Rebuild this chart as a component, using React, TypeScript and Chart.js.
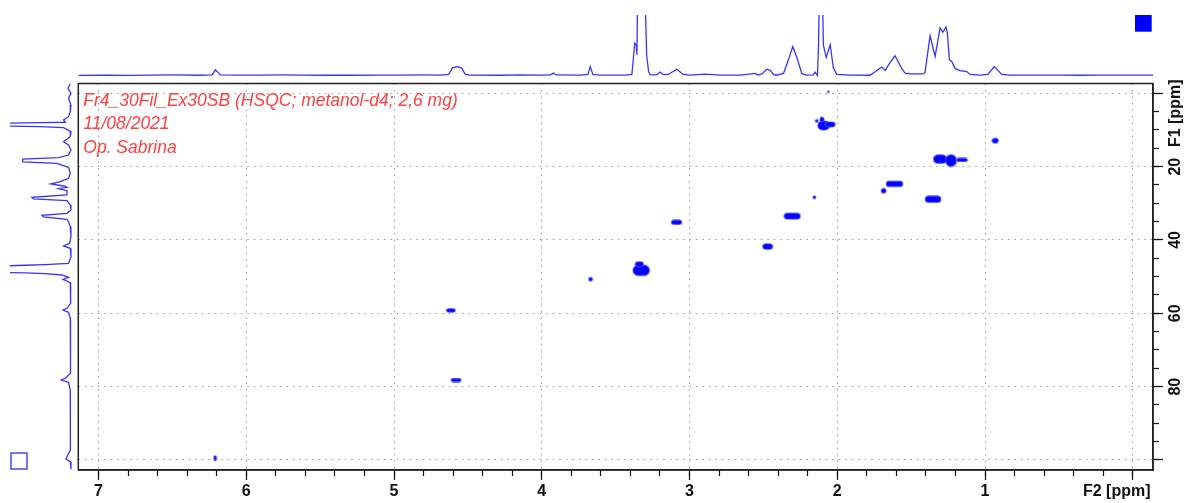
import React, { useEffect, useRef } from 'react';
import { Chart, registerables } from 'chart.js';

Chart.register(...registerables);

const W = 1184;
const H = 503;

// ---------------- data ----------------
// F2 (1H) axis: value at left edge, value at right edge (ppm)
const f2Range = [7.137, -0.137];
// F1 (13C) axis: value at top edge, value at bottom edge (ppm)
const f1Range = [-2.67, 102.73];
const f2Labeled = [1, 2, 3, 4, 5, 6, 7];
const f1Labeled = [20, 40, 60, 80];
const f2Title = 'F2 [ppm]';
const f1Title = 'F1 [ppm]';
const noteLines = ['Fr4_30Fil_Ex30SB (HSQC; metanol-d4; 2,6 mg)', '11/08/2021', 'Op. Sabrina'];

// HSQC cross peaks (contour lobes): 1H shift, 13C shift, 1H extent, 13C extent (ppm)
const peakH = [2.06, 2.092, 2.048, 2.104, 2.139, 0.931, 1.304, 1.23, 1.155, 1.613, 1.686, 1.352, 2.155, 2.305, 2.471, 3.088, 3.327, 3.339, 3.67, 4.615, 4.58, 6.211];
const peakC = [-0.44, 8.78, 8.51, 7.14, 7.55, 12.95, 17.97, 18.33, 18.19, 24.7, 26.6, 28.9, 28.36, 33.5, 41.8, 35.2, 48.27, 46.6, 50.7, 59.2, 78.2, 99.5];
const peakDH = [0.014, 0.081, 0.068, 0.027, 0.02, 0.043, 0.091, 0.074, 0.072, 0.113, 0.034, 0.108, 0.02, 0.111, 0.068, 0.072, 0.112, 0.056, 0.027, 0.06, 0.068, 0.018];
const peakDC = [0.55, 2.45, 1.36, 1.36, 0.8, 1.36, 2.27, 3.27, 0.93, 1.55, 1.36, 1.72, 0.82, 1.64, 1.45, 1.17, 2.92, 1.36, 1.09, 0.95, 0.95, 1.36];

// 1H projection (top trace): ppm, intensity (arb.)
const topPpm = [7.135, 6.95, 6.8, 6.648, 6.5, 6.31, 6.231, 6.209, 6.175, 6.05, 5.904, 5.75, 5.634, 5.45, 5.295, 5.1, 4.957, 4.8, 4.687, 4.63, 4.605, 4.572, 4.544, 4.517, 4.484, 4.281, 4.15, 4.01, 3.942, 3.922, 3.902, 3.739, 3.687, 3.672, 3.654, 3.604, 3.435, 3.39, 3.371, 3.361, 3.356, 3.352, 3.327, 3.3, 3.29, 3.277, 3.266, 3.225, 3.198, 3.178, 3.144, 3.085, 3.043, 2.995, 2.894, 2.792, 2.657, 2.556, 2.535, 2.51, 2.477, 2.454, 2.432, 2.414, 2.364, 2.332, 2.301, 2.272, 2.24, 2.211, 2.163, 2.15, 2.134, 2.127, 2.121, 2.109, 2.1, 2.094, 2.075, 2.048, 2.026, 2.003, 1.913, 1.778, 1.699, 1.676, 1.642, 1.609, 1.563, 1.541, 1.507, 1.419, 1.406, 1.372, 1.338, 1.304, 1.286, 1.264, 1.255, 1.241, 1.225, 1.203, 1.169, 1.124, 1.101, 1.034, 0.98, 0.937, 0.887, 0.831, 0.628, 0.493, 0.357, 0.222, 0.087, -0.049, -0.137];
const topInt = [0, 0.4, 0.1, 0.3, 0.5, 0.2, 0.5, 5.5, 0.5, 0.3, 0.3, 0.5, 0.4, 0.2, 0.2, 0.4, 0.3, 0.5, 0.3, 1, 7.5, 8.8, 7.5, 1, 0.3, 0.2, 0.5, 0.3, 0.5, 2.3, 0.5, 0.3, 1, 8.8, 1, 0.3, 0.3, 1, 32, 30, 20.5, 75, 110, 75, 20, 3.8, 0.5, 0.5, 3.3, 0.8, 1, 6.2, 1, 0.3, 1.3, 0.3, 0.3, 2, 0.5, 1.5, 6.2, 5, 1, 0.2, 2, 15, 28.8, 17, 2, 0.3, 0.5, 3.3, 0, 30, 80, 130, 80, 30, 17.7, 30.5, 7, 1, 0.3, 0.2, 8.3, 5, 13, 19.5, 6.7, 2.3, 1.7, 1.5, 3, 39.5, 18.8, 47.2, 42.8, 48.2, 42.2, 15.5, 13.8, 7, 4.8, 3.8, 1, 0.3, 1, 8.8, 1, 0.3, 0.3, 0.4, 0.2, 0.4, 0.3, 0.4, 0.3];

// 13C projection (left trace): ppm, intensity (arb.)
const leftPpm = [-2.54, -1.36, 0, 1.36, 3.19, 5.02, 6.38, 7.28, 7.9, 8.0, 8.27, 8.56, 8.84, 9.1, 9.38, 10.47, 11.84, 13.2, 14.1, 15.46, 16.83, 17.56, 17.92, 18.73, 19.09, 20.18, 21.82, 23.18, 24.11, 24.73, 25.28, 25.63, 26.02, 26.56, 27.73, 28.36, 28.82, 29.29, 30.46, 31.82, 32.72, 33.27, 33.73, 34.36, 35.02, 36.38, 39.11, 40.91, 41.64, 42.27, 44.56, 46.36, 46.7, 46.9, 47.2, 48.0, 48.75, 49.0, 49.2, 49.55, 50.18, 50.72, 51.65, 53.64, 57.27, 58.63, 59.1, 59.72, 61.36, 66.38, 71.83, 76.36, 77.72, 78.19, 78.81, 80.91, 86.36, 91.82, 97.27, 99.1, 99.73, 100.46, 101.83, 102.54];
const leftInt = [0, 2.3, -0.7, 1.7, -0.7, 0, 1.7, 6.7, 5, 30, 80, 100, 80, 30, 6.7, -0.7, 0, 6.7, 1.7, -0.7, 1.7, 11.7, 47.3, 47.3, 13.3, 1.7, 0, 1.7, 10, 19.3, 6.7, 3.3, 11.7, 3.3, 3.3, 38.3, 36.7, 3.3, 0, -0.7, 3.3, 28.3, 26.7, 3.3, 1.7, 0, -0.7, 0.7, 6.7, 0, -0.7, 1.7, 25, 45, 80, 100, 80, 45, 25, 8.3, 1.7, 7.3, 0, -0.7, 0, 3.3, 7.3, 1.7, 0, 0, -0.7, 0, 5, 9, 1.7, 0, -0.3, 0, 0, 3.3, 4.3, 0, -0.7, -0.7];

// ---------------- styling / layout ----------------
const PLOT = { left: 78.3, top: 83.5, right: 1153, bottom: 470 };
const TOP_PANEL_TOP = 15;
const LEFT_PANEL_LEFT = 10;
const TRACE_COLOR = '#3535ff';
const AXIS_FONT_FAMILY = '"Liberation Sans", Arial, sans-serif';
const tickFont = { family: AXIS_FONT_FAMILY, size: 16, weight: 'bold' as const };

function makeBlob(w: number, h: number): HTMLCanvasElement {
  const c = document.createElement('canvas');
  const pad = 1;
  c.width = Math.max(3, Math.round(w + pad * 2));
  c.height = Math.max(3, Math.round(h + pad * 2));
  const g = c.getContext('2d')!;
  const rw = Math.max(1.6, w);
  const rh = Math.max(1.6, h);
  const x0 = (c.width - rw) / 2;
  const y0 = (c.height - rh) / 2;
  g.beginPath();
  (g as any).roundRect(x0, y0, rw, rh, Math.min(rw, rh) / 2);
  g.fillStyle = '#0000ff';
  g.fill();
  g.lineWidth = 1;
  g.strokeStyle = 'rgba(80,80,255,0.85)';
  g.stroke();
  return c;
}

const decorPlugin = {
  id: 'decor',
  afterDraw(chart: any) {
    const { ctx, chartArea: a } = chart;
    const xs = chart.scales.x;
    const ys = chart.scales.y;
    ctx.save();
    // frame
    ctx.strokeStyle = '#222';
    ctx.lineWidth = 1.5;
    ctx.strokeRect(a.left, a.top, a.right - a.left, a.bottom - a.top);
    // notes
    ctx.fillStyle = '#ff4040';
    ctx.font = 'italic 17.5px "Liberation Sans", Arial, sans-serif';
    ctx.textAlign = 'left';
    ctx.textBaseline = 'alphabetic';
    noteLines.forEach((t, i) => ctx.fillText(t, a.left + 5, a.top + 22.5 + i * 23.3));
    // axis titles
    ctx.fillStyle = '#111';
    ctx.font = `bold 16px ${AXIS_FONT_FAMILY}`;
    ctx.textAlign = 'center';
    ctx.textBaseline = 'middle';
    ctx.fillText(f2Title, xs.getPixelForValue(0) - 16, a.bottom + 22);
    ctx.save();
    ctx.translate(a.right + 23, ys.getPixelForValue(0) + 20);
    ctx.rotate(-Math.PI / 2);
    ctx.fillText(f1Title, 0, 0);
    ctx.restore();
    // colour-level icons
    ctx.fillStyle = '#0000ff';
    ctx.fillRect(1135, 15, 16.7, 16.7);
    ctx.strokeStyle = '#4848ff';
    ctx.lineWidth = 1.5;
    ctx.strokeRect(11, 453, 16, 16);
    ctx.restore();
  },
};

export default function App() {
  const mainRef = useRef<HTMLCanvasElement>(null);
  const topRef = useRef<HTMLCanvasElement>(null);
  const leftRef = useRef<HTMLCanvasElement>(null);

  useEffect(() => {
    const charts: Chart[] = [];
    const f2Min = Math.min(f2Range[0], f2Range[1]);
    const f2Max = Math.max(f2Range[0], f2Range[1]);
    const f1Min = Math.min(f1Range[0], f1Range[1]);
    const f1Max = Math.max(f1Range[0], f1Range[1]);

    // top 1H projection
    charts.push(
      new Chart(topRef.current!, {
        type: 'scatter',
        data: {
          datasets: [
            {
              data: topPpm.map((p, i) => ({ x: p, y: topInt[i] })),
              showLine: true,
              pointRadius: 0,
              borderColor: TRACE_COLOR,
              borderWidth: 1.3,
              tension: 0,
              clip: 0,
            } as any,
          ],
        },
        options: {
          responsive: false,
          animation: false,
          events: [],
          layout: { padding: { left: PLOT.left, right: W - PLOT.right, top: TOP_PANEL_TOP, bottom: H - PLOT.top } },
          scales: {
            x: { type: 'linear', display: false, min: f2Min, max: f2Max, reverse: true },
            y: { type: 'linear', display: false, min: -8, max: 60 },
          },
          plugins: { legend: { display: false }, tooltip: { enabled: false } },
        },
      })
    );

    // left 13C projection
    charts.push(
      new Chart(leftRef.current!, {
        type: 'scatter',
        data: {
          datasets: [
            {
              data: leftPpm.map((p, i) => ({ x: leftInt[i], y: p })),
              showLine: true,
              pointRadius: 0,
              borderColor: TRACE_COLOR,
              borderWidth: 1.3,
              tension: 0,
              clip: 0,
            } as any,
          ],
        },
        options: {
          responsive: false,
          animation: false,
          events: [],
          layout: { padding: { left: LEFT_PANEL_LEFT, right: W - PLOT.left, top: PLOT.top, bottom: H - PLOT.bottom } },
          scales: {
            x: { type: 'linear', display: false, min: -8, max: 60, reverse: true },
            y: { type: 'linear', display: false, min: f1Min, max: f1Max, reverse: true },
          },
          plugins: { legend: { display: false }, tooltip: { enabled: false } },
        },
      })
    );

    // main HSQC plot
    const gridMajor = {
      color: '#9a9a9a',
      lineWidth: 1,
      tickLength: 10,
      tickColor: '#111',
      tickWidth: 1.2,
      drawOnChartArea: true,
    };
    const gridMinor = {
      drawOnChartArea: false,
      tickLength: 6,
      tickColor: '#111',
      tickWidth: 1.2,
    };
    const borderMajor = { display: true, color: '#222', width: 1.5, dash: [1.5, 5] };

    charts.push(
      new Chart(mainRef.current!, {
        type: 'scatter',
        data: {
          datasets: [
            {
              data: peakH.map((h, i) => ({ x: h, y: peakC[i] })),
              pointRadius: 3,
              borderWidth: 0,
              backgroundColor: '#0000ff',
              pointStyle: (ctx: any) => {
                const i = ctx.dataIndex;
                const xs = ctx.chart.scales.x;
                const ys = ctx.chart.scales.y;
                if (i == null || !xs || !ys) return 'circle';
                const w = Math.abs(xs.getPixelForValue(peakH[i] + peakDH[i] / 2) - xs.getPixelForValue(peakH[i] - peakDH[i] / 2));
                const h = Math.abs(ys.getPixelForValue(peakC[i] + peakDC[i] / 2) - ys.getPixelForValue(peakC[i] - peakDC[i] / 2));
                return makeBlob(w, h);
              },
            } as any,
          ],
        },
        options: {
          responsive: false,
          animation: false,
          events: [],
          layout: { padding: { left: PLOT.left, top: PLOT.top, right: 0, bottom: 0 } },
          scales: {
            xMinor: {
              type: 'linear',
              position: 'bottom',
              weight: 0,
              min: f2Min,
              max: f2Max,
              reverse: true,
              ticks: { stepSize: 0.2, includeBounds: false, display: false },
              grid: gridMinor,
              border: { display: false },
              afterFit: (s: any) => {
                s.height = 0;
              },
            } as any,
            x: {
              type: 'linear',
              position: 'bottom',
              weight: 1,
              min: f2Min,
              max: f2Max,
              reverse: true,
              ticks: {
                stepSize: 1,
                includeBounds: false,
                autoSkip: false,
                maxRotation: 0,
                padding: 2,
                color: '#111',
                font: tickFont,
                callback: (v: any) => (f2Labeled.includes(Number(v)) ? String(v) : ''),
              },
              grid: gridMajor,
              border: borderMajor,
              afterFit: (s: any) => {
                s.height = H - PLOT.bottom;
              },
            } as any,
            yMinor: {
              type: 'linear',
              position: 'right',
              weight: 0,
              min: f1Min,
              max: f1Max,
              reverse: true,
              ticks: { stepSize: 5, includeBounds: false, display: false },
              grid: gridMinor,
              border: { display: false },
              afterFit: (s: any) => {
                s.width = 0;
              },
            } as any,
            y: {
              type: 'linear',
              position: 'right',
              weight: 1,
              min: f1Min,
              max: f1Max,
              reverse: true,
              ticks: {
                stepSize: 20,
                includeBounds: false,
                autoSkip: false,
                minRotation: 90,
                maxRotation: 90,
                crossAlign: 'center',
                padding: 4,
                color: '#111',
                font: tickFont,
                callback: (v: any) => (f1Labeled.includes(Number(v)) ? String(v) : ''),
              },
              grid: gridMajor,
              border: borderMajor,
              afterFit: (s: any) => {
                s.width = W - PLOT.right;
              },
            } as any,
          },
          plugins: { legend: { display: false }, tooltip: { enabled: false } },
        },
        plugins: [decorPlugin],
      })
    );

    return () => charts.forEach((c) => c.destroy());
  }, []);

  const cs: React.CSSProperties = { position: 'absolute', left: 0, top: 0 };
  return (
    <div style={{ position: 'absolute', left: 0, top: 0, width: W, height: H, background: '#fff', overflow: 'hidden' }}>
      <canvas ref={topRef} width={W} height={H} style={cs} />
      <canvas ref={leftRef} width={W} height={H} style={cs} />
      <canvas ref={mainRef} width={W} height={H} style={cs} />
    </div>
  );
}
